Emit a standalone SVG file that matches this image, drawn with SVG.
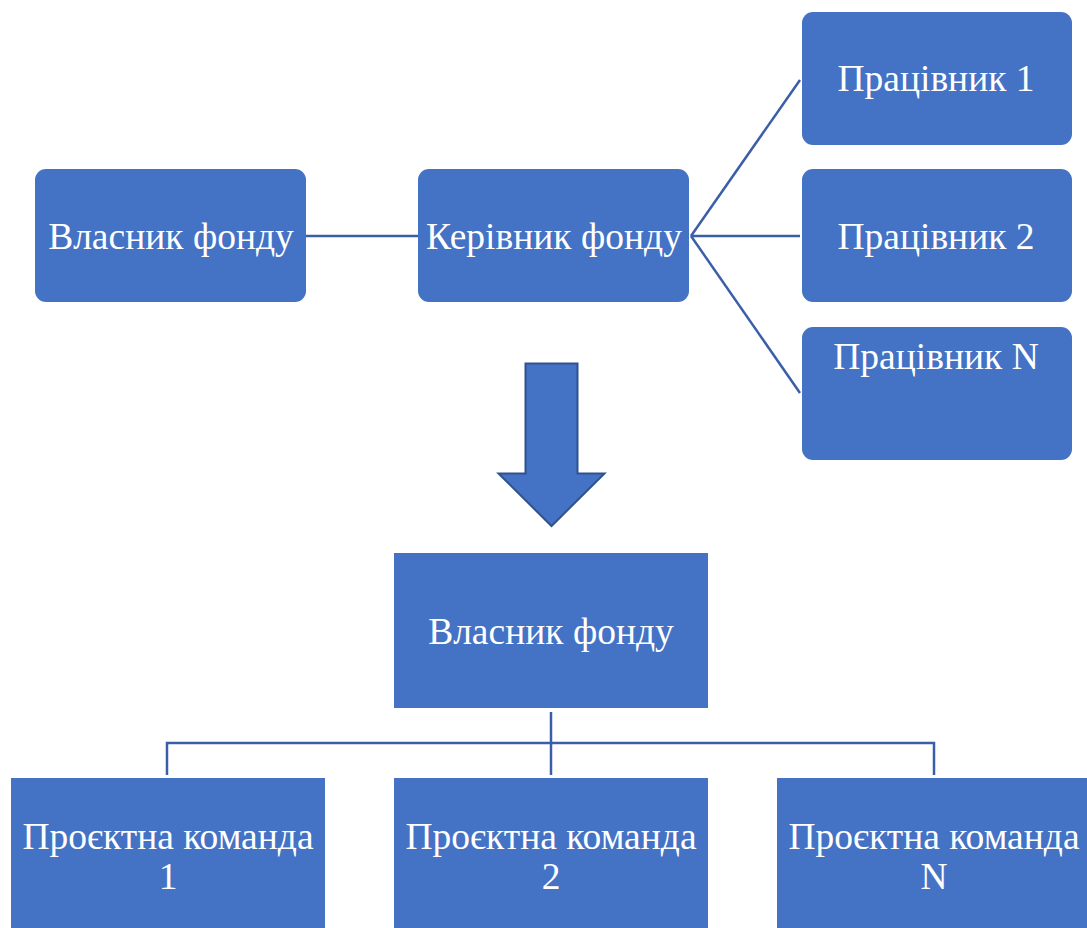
<svg xmlns="http://www.w3.org/2000/svg" width="1087" height="928" viewBox="0 0 1087 928">
<style>
.box{fill:#4472C4;}
.t{font-family:"Liberation Serif","Times New Roman",serif;font-size:37.5px;fill:#ffffff;text-anchor:middle;}
.c{stroke:#3A5FA8;stroke-width:2.5;fill:none;}
</style>
<rect width="1087" height="928" fill="#ffffff"/>
<g id="connectors">
<line class="c" x1="306" y1="236" x2="418" y2="236"/>
<line class="c" x1="691" y1="236" x2="800" y2="80"/>
<line class="c" x1="691" y1="236" x2="800" y2="236"/>
<line class="c" x1="691" y1="236" x2="800" y2="393"/>
<path class="c" d="M551 712 V775 M167 775 V743 H934 V775"/>
</g>
<g id="owner1"><rect class="box" x="35" y="169" width="271" height="133" rx="11"/><text class="t" x="171" y="249">Власник фонду</text></g>
<g id="manager"><rect class="box" x="418" y="169" width="271" height="133" rx="11"/><text class="t" x="554" y="249">Керівник фонду</text></g>
<g id="worker1"><rect class="box" x="802" y="12" width="270" height="133" rx="11"/><text class="t" x="936" y="91">Працівник 1</text></g>
<g id="worker2"><rect class="box" x="802" y="169" width="270" height="133" rx="11"/><text class="t" x="936" y="249">Працівник 2</text></g>
<g id="workerN"><rect class="box" x="802" y="327" width="270" height="133" rx="11"/><text class="t" x="936" y="369">Працівник N</text></g>
<g id="arrow"><path d="M525.5 363.5 H577.5 V473.5 H604.5 L551.5 526 L498.5 473.5 H525.5 Z" fill="#4472C4" stroke="#2F528F" stroke-width="2"/></g>
<g id="owner2"><rect class="box" x="394" y="553" width="314" height="155"/><text class="t" x="551" y="644">Власник фонду</text></g>
<g id="team1"><rect class="box" x="11" y="778" width="314" height="150"/><text class="t" x="168" y="849">Проєктна команда</text><text class="t" x="168" y="889">1</text></g>
<g id="team2"><rect class="box" x="394" y="778" width="314" height="150"/><text class="t" x="551" y="849">Проєктна команда</text><text class="t" x="551" y="889">2</text></g>
<g id="teamN"><rect class="box" x="777" y="778" width="314" height="150"/><text class="t" x="934" y="849">Проєктна команда</text><text class="t" x="934" y="889">N</text></g>
</svg>
